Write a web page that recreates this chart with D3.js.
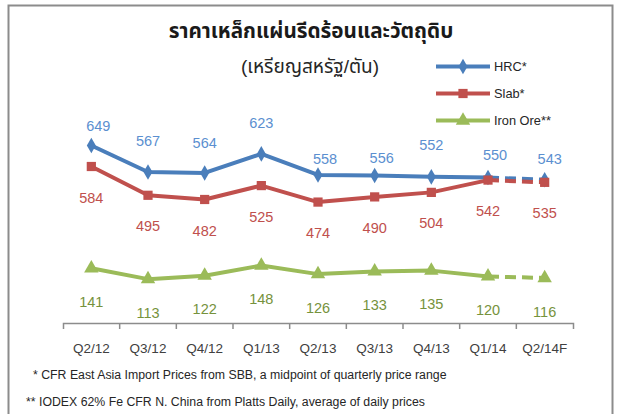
<!DOCTYPE html>
<html>
<head>
<meta charset="utf-8">
<script src="https://cdn.jsdelivr.net/npm/d3@7"></script>
<style>
  body { margin: 0; background: #fff; }
  svg { display: block; font-family: "Liberation Sans", Arial, "Noto Sans Thai", "Noto Sans", sans-serif; }
</style>
</head>
<body>
<div class="steel-viz"></div>
<script>
// quarters on the x axis
const quarters = ["Q2/12", "Q3/12", "Q4/12", "Q1/13", "Q2/13", "Q3/13", "Q4/13", "Q1/14", "Q2/14F"];

// prices, USD per tonne
const hrc = [649, 567, 564, 623, 558, 556, 552, 550, 543];
const slab = [584, 495, 482, 525, 474, 490, 504, 542, 535];
const ironOre = [141, 113, 122, 148, 126, 133, 135, 120, 116];

// the last segment (to the forecast quarter) is dashed
const forecastFrom = 7;

// HRC labels were hand placed in the original, nudge them the same way
const hrcLabelDx = [7, 0, 0, 0, 7, 7, 0, 7, 5];
const hrcLabelDy = [20, 31, 30, 31, 16, 18, 32, 23, 21];

const title = "ราคาเหล็กแผ่นรีดร้อนและวัตถุดิบ";
const subtitle = "(เหรียญสหรัฐ/ตัน)";
const notes = [
  "* CFR East Asia Import Prices from SBB, a midpoint of quarterly price range",
  "** IODEX 62% Fe CFR N. China from Platts Daily, average of daily prices"
];

function drawSteel() {
  const width = 619, height = 414;
  const plot = {left: 63, right: 573, top: 129, bottom: 323};

  const svg = d3.select(".steel-viz")
    .append("svg")
      .attr("width", width)
      .attr("height", height);

  // outer frame
  svg.append("rect")
    .attr("x", 8.5).attr("y", 5.5)
    .attr("width", 604).attr("height", 430)
    .attr("fill", "none")
    .attr("stroke", "#8c8c8c")
    .attr("stroke-width", 2);

  const x = d3.scaleBand()
    .domain(quarters)
    .range([plot.left, plot.right])
    .padding(0);

  const y = d3.scaleLinear()
    .domain([100, 700])
    .range([plot.bottom, plot.top]);

  // iron ore sits on a hidden secondary axis
  const y2 = d3.scaleLinear()
    .domain([0, 500])
    .range([plot.bottom, plot.top]);

  const cx = q => x(q) + x.bandwidth() / 2;

  // x axis
  const xAxis = svg.append("g")
    .attr("transform", `translate(0, ${plot.bottom})`)
    .call(d3.axisBottom(x).tickSize(0).tickSizeOuter(6).tickPadding(20));
  xAxis.select(".domain").attr("stroke", "#8c8c8c").attr("stroke-width", 1.5);
  xAxis.selectAll("text")
    .attr("fill", "#404040")
    .style("font-size", "13.5px");
  xAxis.selectAll(".boundary")
    .data(quarters.slice(1))
    .join("line")
      .attr("class", "boundary")
      .attr("x1", d => x(d)).attr("x2", d => x(d))
      .attr("y1", 0).attr("y2", 6)
      .attr("stroke", "#8c8c8c")
      .attr("stroke-width", 1.5);

  const series = [
    {key: "HRC*", values: hrc, scale: y, color: "#4a7ebb", labelColor: "#5b8fd0", marker: d3.symbolDiamond, size: 70},
    {key: "Slab*", values: slab, scale: y, color: "#c0504d", labelColor: "#c0504d", marker: d3.symbolSquare, size: 85},
    {key: "Iron Ore**", values: ironOre, scale: y2, color: "#9bbb59", labelColor: "#76923c", marker: d3.symbolTriangle, size: 90}
  ];

  const line = d3.line();

  series.forEach(s => {
    const pts = s.values.map((v, i) => [cx(quarters[i]), s.scale(v)]);
    const g = svg.append("g");

    g.append("path")
      .attr("d", line(pts.slice(0, forecastFrom + 1)))
      .attr("fill", "none")
      .attr("stroke", s.color)
      .attr("stroke-width", 4)
      .attr("stroke-linejoin", "round");

    g.append("path")
      .attr("d", line(pts.slice(forecastFrom)))
      .attr("fill", "none")
      .attr("stroke", s.color)
      .attr("stroke-width", 4)
      .attr("stroke-dasharray", "11,6");

    g.selectAll(".marker")
      .data(pts)
      .join("path")
        .attr("class", "marker")
        .attr("transform", d => `translate(${d[0]},${d[1]})`)
        .attr("d", d3.symbol().type(s.marker).size(s.size))
        .attr("fill", s.color);
  });

  // value labels
  const labels = svg.append("g")
    .attr("text-anchor", "middle")
    .style("font-size", "14.5px");

  labels.selectAll(".hrc-label")
    .data(hrc)
    .join("text")
      .attr("class", "hrc-label")
      .attr("x", (d, i) => cx(quarters[i]) + hrcLabelDx[i])
      .attr("y", (d, i) => y(d) - hrcLabelDy[i])
      .attr("dy", "0.35em")
      .attr("fill", series[0].labelColor)
      .text(d => d);

  labels.selectAll(".slab-label")
    .data(slab)
    .join("text")
      .attr("class", "slab-label")
      .attr("x", (d, i) => cx(quarters[i]))
      .attr("y", d => y(d) + 31)
      .attr("dy", "0.35em")
      .attr("fill", series[1].labelColor)
      .text(d => d);

  labels.selectAll(".ore-label")
    .data(ironOre)
    .join("text")
      .attr("class", "ore-label")
      .attr("x", (d, i) => cx(quarters[i]))
      .attr("y", d => y2(d) + 33.5)
      .attr("dy", "0.35em")
      .attr("fill", series[2].labelColor)
      .text(d => d);

  // titles
  svg.append("text")
    .attr("x", 311)
    .attr("y", 31)
    .attr("dy", "0.35em")
    .attr("text-anchor", "middle")
    .attr("fill", "#1a1a1a")
    .style("font-size", "20.7px")
    .style("font-weight", "bold")
    .text(title);

  svg.append("text")
    .attr("x", 310)
    .attr("y", 66)
    .attr("dy", "0.35em")
    .attr("text-anchor", "middle")
    .attr("fill", "#262626")
    .style("font-size", "19px")
    .text(subtitle);

  // legend
  const legend = svg.append("g")
    .selectAll("g")
    .data(series)
    .join("g")
      .attr("transform", (d, i) => `translate(436, ${66.5 + i * 27})`);

  legend.append("line")
    .attr("x1", 0).attr("x2", 54)
    .attr("stroke", d => d.color)
    .attr("stroke-width", 4);

  legend.append("path")
    .attr("transform", "translate(27,0)")
    .attr("d", d => d3.symbol().type(d.marker).size(d.size)())
    .attr("fill", d => d.color);

  legend.append("text")
    .attr("x", 58)
    .attr("dy", "0.35em")
    .attr("fill", "#262626")
    .style("font-size", "12.8px")
    .text(d => d.key);

  // footnotes
  svg.append("g")
    .selectAll("text")
    .data(notes)
    .join("text")
      .attr("x", (d, i) => i === 0 ? 33 : 26)
      .attr("y", (d, i) => 375 + i * 27)
      .attr("dy", "0.35em")
      .attr("fill", "#262626")
      .style("font-size", "12.3px")
      .text(d => d);
}

drawSteel();
</script>
</body>
</html>
